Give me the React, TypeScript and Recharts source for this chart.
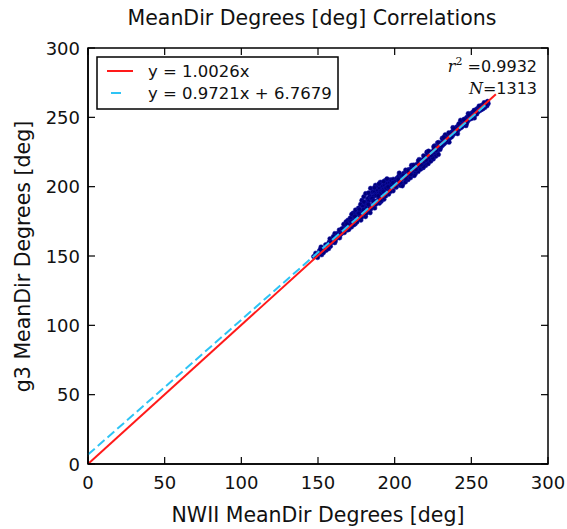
import React from 'react';
import { ScatterChart, Scatter, XAxis, YAxis } from 'recharts';

// ---- data ----
const TICKS = [0, 50, 100, 150, 200, 250, 300];

const TITLE = 'MeanDir Degrees [deg] Correlations';
const X_LABEL = 'NWII MeanDir Degrees [deg]';
const Y_LABEL = 'g3 MeanDir Degrees [deg]';

const FIT_LABELS = ['y = 1.0026x', 'y = 0.9721x + 6.7679'];
const FIT_SLOPES = [1.0026, 0.9721];
const FIT_INTERCEPTS = [0, 6.7679];
const FIT_X_END = [266, 260];

const R2 = '0.9932';
const N_COUNT = '1313';

// NWII (x) vs g3 (y) samples
const segA: number[][] = [
  [148.5, 152.0], [150.2, 151.1], [151.0, 153.8], [152.4, 150.9], [153.1, 155.2], [154.0, 153.5],
  [155.3, 154.1], [155.8, 157.9], [156.6, 156.2], [157.2, 159.8], [158.1, 157.0], [158.9, 161.3],
  [159.5, 160.2], [160.3, 162.8], [160.9, 159.6], [161.7, 164.1], [162.2, 162.9], [163.0, 166.4],
  [163.6, 164.2], [164.1, 163.1], [164.8, 167.5], [165.2, 166.0], [152.0, 156.5], [149.7, 148.9],
  [157.8, 162.4], [147.2, 149.6], [161.0, 166.2], [163.9, 168.8],
];
const segB: number[][] = [
  [165.9, 169.3], [166.4, 167.1], [167.0, 170.6], [167.5, 168.9], [168.1, 172.0], [168.6, 170.4],
  [169.2, 168.7], [169.8, 173.5], [170.3, 171.8], [170.9, 174.9], [171.4, 172.6], [171.8, 170.9],
  [172.3, 176.2], [172.9, 174.0], [173.4, 178.1], [173.8, 175.5], [174.3, 173.2], [174.8, 177.9],
  [175.1, 180.4], [175.6, 176.8], [166.8, 172.9], [169.5, 175.8], [171.0, 177.3], [173.0, 181.0],
  [174.5, 183.2], [168.3, 174.6], [172.0, 180.1],
];
const segC: number[][] = [
  [176.0, 179.1], [176.4, 184.5], [176.9, 181.7], [177.3, 177.6], [177.8, 187.2], [178.2, 182.4],
  [178.6, 190.1], [179.0, 180.3], [179.4, 185.8], [179.9, 192.7], [180.3, 183.6], [180.7, 188.4],
  [181.1, 195.0], [181.5, 186.9], [181.9, 181.5], [182.3, 190.3], [182.7, 191.7], [183.1, 189.6],
  [183.5, 184.8], [183.9, 193.2], [184.3, 198.8], [184.7, 191.7], [185.1, 186.3], [185.5, 195.8],
  [185.9, 196.4], [186.3, 193.1], [186.7, 188.2], [187.1, 196.4], [187.5, 201.0], [187.9, 194.7],
  [188.3, 189.8], [188.7, 197.7], [189.1, 200.1], [189.5, 195.2], [189.9, 191.3], [190.3, 198.9],
  [190.7, 203.2], [191.1, 196.6], [191.5, 193.0], [191.9, 199.8], [192.3, 200.5], [192.7, 197.9],
  [193.1, 194.6], [193.5, 201.0], [193.9, 204.4], [194.3, 199.3], [194.7, 196.1], [195.1, 202.0],
  [195.5, 202.5], [195.9, 200.4], [196.3, 197.8], [196.7, 203.3], [197.1, 204.9], [197.5, 199.2],
  [197.9, 204.3], [198.3, 201.5], [198.7, 200.4], [199.1, 205.4], [199.5, 203.1], [199.9, 201.3],
  [178.0, 175.9], [181.0, 178.4], [184.0, 181.2], [187.0, 184.6], [190.0, 188.1], [193.0, 190.9],
  [196.0, 194.5], [199.0, 197.0], [182.0, 185.0], [186.0, 190.0], [190.5, 194.8], [194.5, 199.0],
  [198.0, 201.5], [180.0, 189.0], [183.0, 195.5], [186.8, 199.2], [189.8, 202.0], [192.8, 203.6],
  [185.3, 191.5], [188.0, 193.6], [191.2, 189.4], [177.0, 183.6], [195.0, 205.6], [182.4, 187.5],
];
const segD: number[][] = [
  [200.4, 203.8], [201.0, 199.6], [201.5, 206.1], [202.1, 202.3], [202.6, 207.4], [203.2, 204.0],
  [203.7, 200.9], [204.3, 208.2], [204.8, 205.5], [205.4, 202.1], [205.9, 209.7], [206.5, 206.3],
  [207.0, 203.4], [207.6, 210.8], [208.1, 207.6], [208.7, 205.0], [209.2, 212.3], [209.8, 209.1],
  [210.3, 206.4], [210.9, 213.0], [211.4, 210.2], [212.0, 208.1], [212.5, 214.6], [213.1, 211.7],
  [213.6, 209.5], [214.2, 216.0], [214.7, 213.1], [215.3, 210.9], [215.8, 217.4], [216.4, 214.2],
  [216.9, 212.6], [217.5, 219.1], [218.0, 215.8], [218.6, 213.7], [219.1, 220.2], [219.7, 217.4],
  [220.2, 215.3], [220.8, 222.0], [221.3, 218.9], [221.9, 216.6], [222.4, 223.4], [223.0, 220.5],
  [223.5, 218.4], [224.1, 225.0], [224.6, 222.1], [225.2, 220.0], [225.7, 226.8], [226.3, 223.5],
  [226.8, 221.9], [227.4, 228.1], [227.9, 225.3], [228.5, 223.2], [229.0, 229.6], [229.6, 226.8],
  [203.0, 209.8], [207.2, 212.0], [211.0, 215.4], [216.0, 219.6], [221.0, 224.9], [226.0, 229.4],
  [205.0, 200.6], [212.8, 208.0], [218.8, 214.5], [224.8, 220.8],
];
const segE: number[][] = [
  [230.1, 228.5], [230.7, 231.6], [231.2, 229.8], [231.8, 233.0], [232.3, 230.9], [232.9, 234.4],
  [233.4, 232.1], [234.0, 235.7], [234.5, 233.0], [235.1, 236.9], [235.6, 234.6], [236.2, 238.3],
  [236.7, 235.8], [237.3, 239.4], [237.8, 236.9], [238.4, 240.8], [238.9, 238.4], [239.5, 241.9],
  [240.0, 239.3], [240.6, 243.1], [241.1, 240.5], [241.7, 244.2], [242.2, 241.7], [242.8, 245.6],
  [243.3, 242.8], [243.9, 246.5], [244.4, 244.0], [245.0, 247.8], [245.5, 245.2], [246.1, 248.9],
  [246.6, 246.3], [247.2, 250.1], [247.7, 247.4], [248.3, 251.0], [248.8, 248.6], [249.4, 252.2],
  [249.9, 249.8], [250.5, 253.3], [251.0, 250.7], [251.6, 254.1], [252.1, 251.9], [252.7, 255.3],
  [253.2, 252.8], [253.8, 256.2], [254.3, 253.9], [254.9, 257.1], [255.4, 254.8], [256.0, 258.0],
  [256.5, 255.6], [257.1, 258.8], [257.6, 256.2], [258.2, 259.4], [258.8, 257.1], [259.5, 260.3],
  [260.2, 258.3], [261.0, 259.9],
  [233.0, 237.4], [238.0, 242.6], [243.0, 247.9], [248.0, 252.7], [235.5, 232.1], [241.0, 238.2],
  [246.5, 244.0], [252.0, 249.6], [228.0, 231.6], [231.0, 234.8],
];
const segF: number[][] = [
  [151.6, 154.9], [153.5, 152.4], [155.0, 158.1], [156.9, 155.3], [158.5, 159.6], [160.0, 164.0],
  [161.3, 160.8], [162.8, 165.6], [164.4, 165.3], [165.6, 169.7], [167.2, 166.9], [168.9, 173.1],
  [170.1, 169.2], [171.6, 174.8], [173.2, 172.4], [174.1, 178.6], [175.4, 174.5], [176.7, 180.8],
  [178.4, 178.0], [179.7, 183.4], [181.3, 180.6], [182.9, 187.1], [184.5, 184.0], [186.1, 189.6],
  [187.7, 187.3], [189.3, 193.4], [190.9, 190.2], [192.5, 196.6], [194.1, 193.3], [195.7, 199.9],
  [197.3, 196.6], [198.9, 202.8], [200.6, 200.1], [202.3, 205.4], [203.9, 202.9], [205.6, 208.0],
  [207.3, 205.7], [208.9, 211.6], [210.6, 208.8], [212.2, 215.5], [213.9, 212.4], [215.5, 218.6],
  [217.2, 215.8], [218.9, 222.3], [220.5, 219.2], [222.1, 225.6], [223.8, 222.6], [225.5, 228.7],
  [227.1, 226.2], [228.7, 231.9], [230.4, 229.6], [232.0, 235.6], [233.7, 233.2], [235.3, 238.8],
  [237.0, 235.9], [238.6, 242.0], [240.3, 239.8], [241.9, 245.3], [243.6, 242.9], [245.2, 248.5],
  [246.9, 245.6], [248.5, 251.6], [250.2, 249.2], [251.8, 255.0], [253.5, 252.4], [255.1, 258.2],
  [256.8, 255.9], [258.4, 260.6], [259.9, 259.4], [260.6, 261.5],
];

// ---- layout / styles ----
const FONT = "'DejaVu Sans', Verdana, sans-serif";
const RED = '#ff1a1a';
const CYAN = '#2ec4f5';
const POINT_FILL = '#00007a';
const PLOT = { left: 88, right: 548, top: 48, bottom: 464 };
const TICK_LEN = 7;

const points = [...segA, ...segB, ...segC, ...segD, ...segE, ...segF].map(([x, y]) => ({ x, y }));
const fitLine = (i: number) => [
  { x: 0, y: FIT_INTERCEPTS[i] },
  { x: FIT_X_END[i], y: FIT_SLOPES[i] * FIT_X_END[i] + FIT_INTERCEPTS[i] },
];

const BottomTick = (p: any) => (
  <g>
    <line x1={p.x} x2={p.x} y1={PLOT.bottom} y2={PLOT.bottom - TICK_LEN} stroke="#000" strokeWidth={1.2} />
    <line x1={p.x} x2={p.x} y1={PLOT.top} y2={PLOT.top + TICK_LEN} stroke="#000" strokeWidth={1.2} />
    <text x={p.x} y={PLOT.bottom + 25} textAnchor="middle" fontFamily={FONT} fontSize={18} fill="#111">
      {p.payload.value}
    </text>
  </g>
);
const LeftTick = (p: any) => (
  <g>
    <line x1={PLOT.left} x2={PLOT.left + TICK_LEN} y1={p.y} y2={p.y} stroke="#000" strokeWidth={1.2} />
    <line x1={PLOT.right} x2={PLOT.right - TICK_LEN} y1={p.y} y2={p.y} stroke="#000" strokeWidth={1.2} />
    <text x={PLOT.left - 8} y={p.y + 6.5} textAnchor="end" fontFamily={FONT} fontSize={18} fill="#111">
      {p.payload.value}
    </text>
  </g>
);

const Dot = (p: any) => (
  <circle cx={p.cx} cy={p.cy} r={2.3} fill={POINT_FILL} stroke="#1414aa" strokeWidth={0.5} />
);
const NoShape = () => <g />;

const axisLine = { stroke: '#000', strokeWidth: 1.5 };

export default function App() {
  return (
    <div style={{ position: 'absolute', left: 0, top: 0, width: 567, height: 529, background: '#fff' }}>
      <ScatterChart
        width={567} height={529}
        margin={{ top: PLOT.top, right: 567 - PLOT.right, bottom: 0, left: 0 }}
      >
        <XAxis
          type="number" dataKey="x" domain={[0, 300]} ticks={TICKS} interval={0}
          height={529 - PLOT.bottom} tickSize={0} tickMargin={0} tickLine={false} axisLine={axisLine}
          tick={<BottomTick />}
        />
        <YAxis
          type="number" dataKey="y" domain={[0, 300]} ticks={TICKS} interval={0}
          width={PLOT.left} tickSize={0} tickMargin={0} tickLine={false} axisLine={axisLine}
          tick={<LeftTick />}
        />
        <Scatter data={points} shape={Dot} isAnimationActive={false} />
        <Scatter
          data={fitLine(0)} shape={NoShape} isAnimationActive={false}
          line={{ stroke: RED, strokeWidth: 2 }}
        />
        <Scatter
          data={fitLine(1)} shape={NoShape} isAnimationActive={false}
          line={{ stroke: CYAN, strokeWidth: 2, strokeDasharray: '9 4' }}
        />
      </ScatterChart>
      <svg
        width={567} height={529}
        style={{ position: 'absolute', left: 0, top: 0, pointerEvents: 'none' }}
        fontFamily={FONT}
      >
        <rect
          x={PLOT.left} y={PLOT.top} width={PLOT.right - PLOT.left} height={PLOT.bottom - PLOT.top}
          fill="none" stroke="#000" strokeWidth={1.5}
        />
        <text x={312} y={25} textAnchor="middle" fontSize={20.5} fill="#111">{TITLE}</text>
        <text x={318} y={521.5} textAnchor="middle" fontSize={20.5} fill="#111">{X_LABEL}</text>
        <text x={30} y={256.5} textAnchor="middle" fontSize={20.5} fill="#111" transform="rotate(-90 30 256.5)">
          {Y_LABEL}
        </text>
        {/* legend */}
        <rect x={97} y={57} width={241} height={52} fill="#fff" stroke="#000" strokeWidth={1.5} />
        <line x1={107} x2={133} y1={71} y2={71} stroke={RED} strokeWidth={2} />
        <text x={148} y={76.7} fontSize={16.5} fill="#111">{FIT_LABELS[0]}</text>
        <line x1={111} x2={121} y1={93} y2={93} stroke={CYAN} strokeWidth={2} />
        <text x={148} y={98.5} fontSize={16.5} fill="#111">{FIT_LABELS[1]}</text>
        {/* stats */}
        <text x={537} y={71.7} textAnchor="end" fontSize={16} fill="#111">
          <tspan fontFamily="'DejaVu Serif', serif" fontStyle="italic">r</tspan>
          <tspan fontFamily="'DejaVu Serif', serif" fontSize={11} dy={-7}>2</tspan>
          <tspan dy={7}>{' =' + R2}</tspan>
        </text>
        <text x={537} y={94.3} textAnchor="end" fontSize={16} fill="#111">
          <tspan fontFamily="'DejaVu Serif', serif" fontStyle="italic">N</tspan>
          <tspan fontFamily="'DejaVu Serif', serif">=</tspan>
          <tspan>{N_COUNT}</tspan>
        </text>
      </svg>
    </div>
  );
}
